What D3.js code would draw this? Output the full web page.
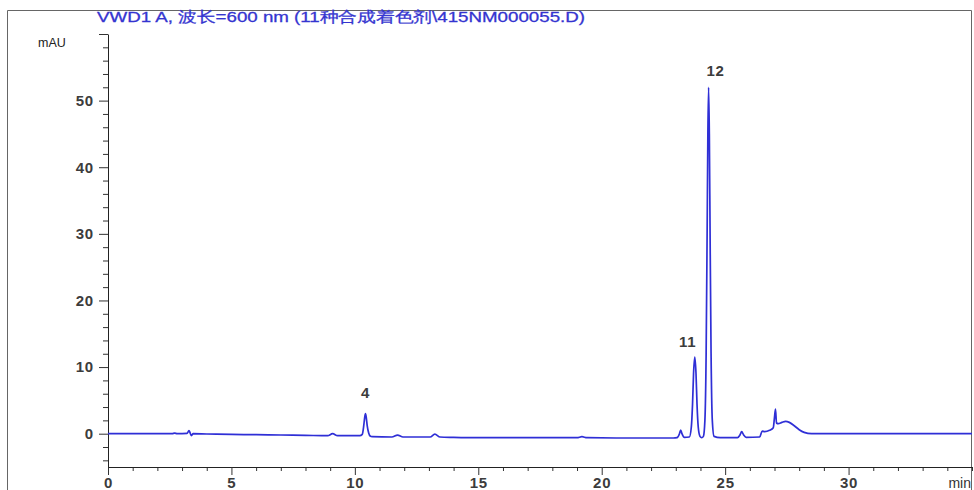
<!DOCTYPE html>
<html>
<head>
<meta charset="utf-8">
<script src="https://cdn.jsdelivr.net/npm/d3@7"></script>
<style>
  body { margin: 0; background: #fff; }
  svg { display: block; font-family: "Liberation Sans", Arial, sans-serif; }
</style>
</head>
<body>
<svg id="chrom" width="974" height="490"></svg>
<script>
// retention time (min) and detector signal (mAU)
const retention = [
  0, 1, 2, 2.6, 2.7, 2.8, 3.2, 3.28, 3.33, 3.38, 3.45, 4, 5, 6, 7, 8, 8.9, 9.1, 9.3,
  10.2, 10.3, 10.36, 10.4, 10.43, 10.46, 10.5, 10.56, 10.62, 10.7,
  11.5, 11.73, 11.95, 13.05, 13.24, 13.45, 14, 15, 17, 19, 19.2, 19.4, 21, 22.9,
  23.05, 23.15, 23.2, 23.25, 23.35,
  23.55, 23.63, 23.68, 23.72, 23.77, 23.82, 23.86, 23.91, 23.98, 24.05,
  24.12, 24.18, 24.23, 24.27, 24.3, 24.33, 24.36, 24.39, 24.43, 24.48, 24.55, 24.8,
  25.5, 25.6, 25.67, 25.75, 25.85, 26.4, 26.5, 26.6, 26.8, 26.95,
  27.0, 27.04, 27.08, 27.15, 27.3, 27.45, 27.6, 27.8, 28.0, 28.2, 28.5, 30, 32, 35
];
const signal = [
  0, 0, 0, 0, 0.1, 0, 0.05, 0.45, 0.1, -0.3, 0, -0.05, -0.1, -0.15, -0.2, -0.25, -0.3, 0.0, -0.3,
  -0.3, -0.1, 1.2, 2.5, 3.0, 2.5, 1.2, 0.1, -0.35, -0.45,
  -0.5, -0.2, -0.5, -0.5, -0.05, -0.5, -0.55, -0.6, -0.6, -0.6, -0.45, -0.6, -0.65, -0.65,
  -0.6, 0.0, 0.55, 0.0, -0.55,
  -0.5, 1, 4.5, 9, 11.5, 9, 4.5, 1, -0.4, -0.6,
  -0.4, 2, 12, 30, 45, 52, 45, 30, 12, 2, -0.4, -0.6,
  -0.6, -0.2, 0.3, -0.2, -0.55, -0.5, 0.4, 0.3, 0.5, 0.9,
  2.5, 3.7, 1.6, 1.5, 1.7, 1.85, 1.7, 1.2, 0.6, 0.2, 0.0, 0, 0, 0
];

const peakNames = ["4", "11", "12"];
const peakTimes = [10.43, 23.77, 24.33];
const peakHeights = [3.0, 11.5, 52];

const xMajor = [0, 5, 10, 15, 20, 25, 30];
const yMajor = [0, 10, 20, 30, 40, 50, 60];
const yLabelled = [0, 10, 20, 30, 40, 50];

const title = "VWD1 A, 波长=600 nm (11种合成着色剂\\415NM000055.D)";

const svg = d3.select('#chrom');

const x = d3.scaleLinear().domain([0, 35]).range([108, 972]);
const y = d3.scaleLinear().domain([-5, 60]).range([467, 34]);

const labelStyle = sel => sel
  .style('font-size', '15px')
  .style('font-weight', 'bold')
  .style('letter-spacing', '0.8px')
  .attr('fill', '#3c3c3c');

// outer frame
svg.append('path')
  .attr('d', 'M7.5,490V10.5H971.5V490')
  .attr('fill', 'none')
  .attr('stroke', '#666')
  .attr('stroke-width', 1);

// title
svg.append('text')
  .attr('x', 97)
  .attr('y', 22)
  .attr('fill', '#3434d0')
  .attr('textLength', 488)
  .attr('lengthAdjust', 'spacingAndGlyphs')
  .attr('stroke', '#3434d0')
  .attr('stroke-width', 0.3)
  .style('font-size', '15px')
  .text(title);

svg.append('text')
  .attr('x', 38)
  .attr('y', 47)
  .attr('fill', '#222')
  .style('font-size', '12.5px')
  .text('mAU');

// minor ticks
const xMinor = d3.range(0, 36, 1).filter(v => !xMajor.includes(v));
const yMinor = d3.range(-4, 61, 2).filter(v => !yMajor.includes(v));

svg.append('g')
  .attr('transform', 'translate(0,467)')
  .call(d3.axisBottom(x).tickValues(xMinor).tickSize(4).tickFormat(''))
  .call(g => g.select('.domain').remove());
svg.append('g')
  .attr('transform', 'translate(108,0)')
  .call(d3.axisLeft(y).tickValues(yMinor).tickSize(5).tickFormat(''))
  .call(g => g.select('.domain').remove());

// major axes
const xAxis = svg.append('g')
  .attr('transform', 'translate(0,467)')
  .call(d3.axisBottom(x).tickValues(xMajor).tickSize(8).tickSizeOuter(0).tickPadding(2));
xAxis.selectAll('text').call(labelStyle);

const yAxis = svg.append('g')
  .attr('transform', 'translate(108,0)')
  .call(d3.axisLeft(y).tickValues(yMajor).tickSize(9).tickSizeOuter(0).tickPadding(5)
    .tickFormat(d => yLabelled.includes(d) ? d : ''));
yAxis.selectAll('text').call(labelStyle);

svg.selectAll('.domain').attr('stroke', '#222');
svg.selectAll('.tick line').attr('stroke', '#333');

svg.append('text')
  .attr('x', 971)
  .attr('y', 488)
  .attr('text-anchor', 'end')
  .attr('fill', '#333')
  .style('font-size', '14px')
  .text('min');

// trace
const pts = retention.map((t, i) => [t, signal[i]]);
const line = d3.line()
  .x(d => x(d[0]))
  .y(d => y(d[1]))
  .curve(d3.curveMonotoneX);

svg.append('path')
  .datum(pts)
  .attr('d', line)
  .attr('fill', 'none')
  .attr('stroke', '#2f2fd6')
  .attr('stroke-width', 1.7);

// peak numbers
const nudge = { '4': [0, -16], '11': [-7, -10], '12': [7, -11] };
svg.selectAll('text.peak')
  .data(peakNames)
  .enter()
  .append('text')
  .classed('peak', true)
  .attr('x', (d, i) => x(peakTimes[i]) + nudge[d][0])
  .attr('y', (d, i) => y(peakHeights[i]) + nudge[d][1])
  .attr('text-anchor', 'middle')
  .call(labelStyle)
  .text(d => d);
</script>
</body>
</html>
